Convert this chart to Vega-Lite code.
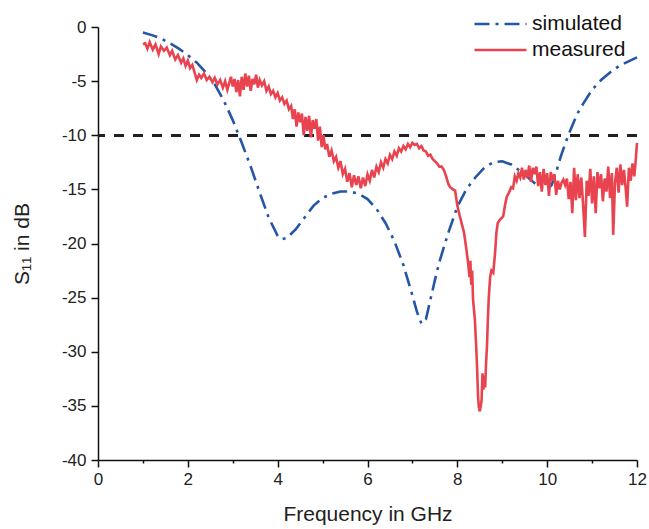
{
  "$schema": "https://vega.github.io/schema/vega-lite/v6.json",
  "width": 539,
  "height": 433,
  "autosize": {"type": "none"},
  "padding": {"left": 98, "top": 27, "right": 12, "bottom": 69},
  "background": "white",
  "config": {
    "view": {"stroke": null},
    "font": "Liberation Sans",
    "axis": {
      "grid": false,
      "domainColor": "#111",
      "domainWidth": 1.5,
      "tickColor": "#111",
      "tickWidth": 1.5,
      "labelFont": "Liberation Sans",
      "labelFontSize": 17,
      "labelColor": "#222",
      "titleFont": "Liberation Sans",
      "titleFontSize": 21,
      "titleFontWeight": "normal",
      "titleColor": "#222"
    }
  },
  "data": {
    "values": [
      {"f": 1.0, "s11": -0.5, "series": "simulated"},
      {"f": 1.2, "s11": -0.75, "series": "simulated"},
      {"f": 1.4, "s11": -1.05, "series": "simulated"},
      {"f": 1.6, "s11": -1.5, "series": "simulated"},
      {"f": 1.8, "s11": -2.0, "series": "simulated"},
      {"f": 2.0, "s11": -2.6, "series": "simulated"},
      {"f": 2.2, "s11": -3.3, "series": "simulated"},
      {"f": 2.4, "s11": -4.2, "series": "simulated"},
      {"f": 2.6, "s11": -5.3, "series": "simulated"},
      {"f": 2.8, "s11": -6.8, "series": "simulated"},
      {"f": 3.0, "s11": -8.6, "series": "simulated"},
      {"f": 3.2, "s11": -10.7, "series": "simulated"},
      {"f": 3.4, "s11": -12.9, "series": "simulated"},
      {"f": 3.6, "s11": -15.3, "series": "simulated"},
      {"f": 3.8, "s11": -17.6, "series": "simulated"},
      {"f": 4.0, "s11": -19.3, "series": "simulated"},
      {"f": 4.1, "s11": -19.6, "series": "simulated"},
      {"f": 4.2, "s11": -19.5, "series": "simulated"},
      {"f": 4.4, "s11": -18.7, "series": "simulated"},
      {"f": 4.6, "s11": -17.6, "series": "simulated"},
      {"f": 4.8, "s11": -16.5, "series": "simulated"},
      {"f": 5.0, "s11": -15.8, "series": "simulated"},
      {"f": 5.2, "s11": -15.4, "series": "simulated"},
      {"f": 5.4, "s11": -15.2, "series": "simulated"},
      {"f": 5.6, "s11": -15.2, "series": "simulated"},
      {"f": 5.8, "s11": -15.4, "series": "simulated"},
      {"f": 6.0, "s11": -15.9, "series": "simulated"},
      {"f": 6.2, "s11": -16.8, "series": "simulated"},
      {"f": 6.4, "s11": -18.1, "series": "simulated"},
      {"f": 6.6, "s11": -19.8, "series": "simulated"},
      {"f": 6.8, "s11": -22.0, "series": "simulated"},
      {"f": 7.0, "s11": -24.8, "series": "simulated"},
      {"f": 7.1, "s11": -26.3, "series": "simulated"},
      {"f": 7.2, "s11": -27.4, "series": "simulated"},
      {"f": 7.3, "s11": -27.0, "series": "simulated"},
      {"f": 7.4, "s11": -25.2, "series": "simulated"},
      {"f": 7.5, "s11": -23.4, "series": "simulated"},
      {"f": 7.6, "s11": -21.7, "series": "simulated"},
      {"f": 7.8, "s11": -19.0, "series": "simulated"},
      {"f": 8.0, "s11": -16.6, "series": "simulated"},
      {"f": 8.2, "s11": -15.0, "series": "simulated"},
      {"f": 8.4, "s11": -13.9, "series": "simulated"},
      {"f": 8.6, "s11": -13.0, "series": "simulated"},
      {"f": 8.8, "s11": -12.5, "series": "simulated"},
      {"f": 9.0, "s11": -12.4, "series": "simulated"},
      {"f": 9.2, "s11": -12.7, "series": "simulated"},
      {"f": 9.4, "s11": -13.3, "series": "simulated"},
      {"f": 9.6, "s11": -14.0, "series": "simulated"},
      {"f": 9.8, "s11": -14.7, "series": "simulated"},
      {"f": 10.0, "s11": -15.0, "series": "simulated"},
      {"f": 10.1, "s11": -14.6, "series": "simulated"},
      {"f": 10.2, "s11": -13.4, "series": "simulated"},
      {"f": 10.3, "s11": -12.0, "series": "simulated"},
      {"f": 10.4, "s11": -10.8, "series": "simulated"},
      {"f": 10.5, "s11": -9.7, "series": "simulated"},
      {"f": 10.6, "s11": -8.7, "series": "simulated"},
      {"f": 10.7, "s11": -7.8, "series": "simulated"},
      {"f": 10.8, "s11": -7.1, "series": "simulated"},
      {"f": 11.0, "s11": -5.8, "series": "simulated"},
      {"f": 11.2, "s11": -4.9, "series": "simulated"},
      {"f": 11.4, "s11": -4.2, "series": "simulated"},
      {"f": 11.6, "s11": -3.6, "series": "simulated"},
      {"f": 11.8, "s11": -3.2, "series": "simulated"},
      {"f": 12.0, "s11": -2.8, "series": "simulated"},

      {"f": 1.00, "s11": -1.6, "series": "measured"},
      {"f": 1.05, "s11": -1.5, "series": "measured"},
      {"f": 1.10, "s11": -2.0, "series": "measured"},
      {"f": 1.15, "s11": -1.4, "series": "measured"},
      {"f": 1.22, "s11": -2.1, "series": "measured"},
      {"f": 1.28, "s11": -1.6, "series": "measured"},
      {"f": 1.35, "s11": -2.5, "series": "measured"},
      {"f": 1.40, "s11": -1.8, "series": "measured"},
      {"f": 1.47, "s11": -2.2, "series": "measured"},
      {"f": 1.53, "s11": -1.9, "series": "measured"},
      {"f": 1.60, "s11": -2.6, "series": "measured"},
      {"f": 1.65, "s11": -2.2, "series": "measured"},
      {"f": 1.72, "s11": -3.0, "series": "measured"},
      {"f": 1.78, "s11": -2.6, "series": "measured"},
      {"f": 1.85, "s11": -3.3, "series": "measured"},
      {"f": 1.90, "s11": -2.9, "series": "measured"},
      {"f": 1.95, "s11": -3.6, "series": "measured"},
      {"f": 2.00, "s11": -3.1, "series": "measured"},
      {"f": 2.05, "s11": -3.8, "series": "measured"},
      {"f": 2.10, "s11": -3.5, "series": "measured"},
      {"f": 2.15, "s11": -4.2, "series": "measured"},
      {"f": 2.20, "s11": -4.9, "series": "measured"},
      {"f": 2.25, "s11": -4.4, "series": "measured"},
      {"f": 2.30, "s11": -4.7, "series": "measured"},
      {"f": 2.36, "s11": -4.3, "series": "measured"},
      {"f": 2.42, "s11": -4.9, "series": "measured"},
      {"f": 2.48, "s11": -4.6, "series": "measured"},
      {"f": 2.55, "s11": -5.1, "series": "measured"},
      {"f": 2.60, "s11": -4.7, "series": "measured"},
      {"f": 2.66, "s11": -5.3, "series": "measured"},
      {"f": 2.72, "s11": -4.9, "series": "measured"},
      {"f": 2.78, "s11": -5.6, "series": "measured"},
      {"f": 2.83, "s11": -5.0, "series": "measured"},
      {"f": 2.88, "s11": -5.8, "series": "measured"},
      {"f": 2.92, "s11": -5.2, "series": "measured"},
      {"f": 2.96, "s11": -4.6, "series": "measured"},
      {"f": 3.00, "s11": -5.5, "series": "measured"},
      {"f": 3.04, "s11": -4.8, "series": "measured"},
      {"f": 3.08, "s11": -6.0, "series": "measured"},
      {"f": 3.12, "s11": -4.9, "series": "measured"},
      {"f": 3.16, "s11": -6.4, "series": "measured"},
      {"f": 3.20, "s11": -4.6, "series": "measured"},
      {"f": 3.24, "s11": -5.8, "series": "measured"},
      {"f": 3.28, "s11": -4.3, "series": "measured"},
      {"f": 3.32, "s11": -5.5, "series": "measured"},
      {"f": 3.36, "s11": -4.5, "series": "measured"},
      {"f": 3.40, "s11": -5.9, "series": "measured"},
      {"f": 3.44, "s11": -4.8, "series": "measured"},
      {"f": 3.48, "s11": -5.3, "series": "measured"},
      {"f": 3.52, "s11": -4.4, "series": "measured"},
      {"f": 3.56, "s11": -5.6, "series": "measured"},
      {"f": 3.60, "s11": -4.9, "series": "measured"},
      {"f": 3.65, "s11": -5.4, "series": "measured"},
      {"f": 3.70, "s11": -5.0, "series": "measured"},
      {"f": 3.75, "s11": -5.9, "series": "measured"},
      {"f": 3.80, "s11": -5.5, "series": "measured"},
      {"f": 3.85, "s11": -6.2, "series": "measured"},
      {"f": 3.90, "s11": -5.9, "series": "measured"},
      {"f": 3.95, "s11": -6.5, "series": "measured"},
      {"f": 4.00, "s11": -6.1, "series": "measured"},
      {"f": 4.05, "s11": -6.8, "series": "measured"},
      {"f": 4.10, "s11": -6.5, "series": "measured"},
      {"f": 4.15, "s11": -7.1, "series": "measured"},
      {"f": 4.20, "s11": -6.8, "series": "measured"},
      {"f": 4.25, "s11": -7.6, "series": "measured"},
      {"f": 4.30, "s11": -7.3, "series": "measured"},
      {"f": 4.34, "s11": -8.5, "series": "measured"},
      {"f": 4.38, "s11": -7.6, "series": "measured"},
      {"f": 4.42, "s11": -9.2, "series": "measured"},
      {"f": 4.46, "s11": -7.9, "series": "measured"},
      {"f": 4.50, "s11": -8.8, "series": "measured"},
      {"f": 4.54, "s11": -8.0, "series": "measured"},
      {"f": 4.58, "s11": -10.0, "series": "measured"},
      {"f": 4.62, "s11": -8.3, "series": "measured"},
      {"f": 4.66, "s11": -9.6, "series": "measured"},
      {"f": 4.70, "s11": -8.2, "series": "measured"},
      {"f": 4.74, "s11": -10.2, "series": "measured"},
      {"f": 4.78, "s11": -8.6, "series": "measured"},
      {"f": 4.82, "s11": -9.4, "series": "measured"},
      {"f": 4.86, "s11": -8.5, "series": "measured"},
      {"f": 4.90, "s11": -10.5, "series": "measured"},
      {"f": 4.94, "s11": -9.2, "series": "measured"},
      {"f": 4.98, "s11": -11.1, "series": "measured"},
      {"f": 5.02, "s11": -10.0, "series": "measured"},
      {"f": 5.06, "s11": -11.3, "series": "measured"},
      {"f": 5.10, "s11": -10.8, "series": "measured"},
      {"f": 5.15, "s11": -12.0, "series": "measured"},
      {"f": 5.20, "s11": -11.4, "series": "measured"},
      {"f": 5.25, "s11": -12.4, "series": "measured"},
      {"f": 5.30, "s11": -12.0, "series": "measured"},
      {"f": 5.35, "s11": -13.0, "series": "measured"},
      {"f": 5.40, "s11": -12.4, "series": "measured"},
      {"f": 5.45, "s11": -13.6, "series": "measured"},
      {"f": 5.50, "s11": -13.1, "series": "measured"},
      {"f": 5.55, "s11": -14.3, "series": "measured"},
      {"f": 5.60, "s11": -13.5, "series": "measured"},
      {"f": 5.65, "s11": -14.8, "series": "measured"},
      {"f": 5.70, "s11": -13.7, "series": "measured"},
      {"f": 5.75, "s11": -14.6, "series": "measured"},
      {"f": 5.80, "s11": -13.8, "series": "measured"},
      {"f": 5.85, "s11": -14.9, "series": "measured"},
      {"f": 5.90, "s11": -13.9, "series": "measured"},
      {"f": 5.95, "s11": -14.7, "series": "measured"},
      {"f": 6.00, "s11": -13.6, "series": "measured"},
      {"f": 6.05, "s11": -14.2, "series": "measured"},
      {"f": 6.10, "s11": -13.2, "series": "measured"},
      {"f": 6.15, "s11": -13.9, "series": "measured"},
      {"f": 6.20, "s11": -12.9, "series": "measured"},
      {"f": 6.25, "s11": -13.4, "series": "measured"},
      {"f": 6.30, "s11": -12.5, "series": "measured"},
      {"f": 6.35, "s11": -13.0, "series": "measured"},
      {"f": 6.40, "s11": -12.2, "series": "measured"},
      {"f": 6.45, "s11": -12.6, "series": "measured"},
      {"f": 6.50, "s11": -11.8, "series": "measured"},
      {"f": 6.55, "s11": -12.2, "series": "measured"},
      {"f": 6.60, "s11": -11.5, "series": "measured"},
      {"f": 6.65, "s11": -11.9, "series": "measured"},
      {"f": 6.70, "s11": -11.2, "series": "measured"},
      {"f": 6.75, "s11": -11.5, "series": "measured"},
      {"f": 6.80, "s11": -11.0, "series": "measured"},
      {"f": 6.85, "s11": -11.3, "series": "measured"},
      {"f": 6.90, "s11": -10.8, "series": "measured"},
      {"f": 6.95, "s11": -11.1, "series": "measured"},
      {"f": 7.00, "s11": -10.7, "series": "measured"},
      {"f": 7.05, "s11": -10.9, "series": "measured"},
      {"f": 7.10, "s11": -10.8, "series": "measured"},
      {"f": 7.15, "s11": -11.2, "series": "measured"},
      {"f": 7.20, "s11": -11.0, "series": "measured"},
      {"f": 7.25, "s11": -11.4, "series": "measured"},
      {"f": 7.30, "s11": -11.5, "series": "measured"},
      {"f": 7.35, "s11": -11.9, "series": "measured"},
      {"f": 7.40, "s11": -11.8, "series": "measured"},
      {"f": 7.45, "s11": -12.2, "series": "measured"},
      {"f": 7.50, "s11": -12.4, "series": "measured"},
      {"f": 7.55, "s11": -12.6, "series": "measured"},
      {"f": 7.60, "s11": -12.9, "series": "measured"},
      {"f": 7.65, "s11": -12.9, "series": "measured"},
      {"f": 7.70, "s11": -13.2, "series": "measured"},
      {"f": 7.75, "s11": -13.8, "series": "measured"},
      {"f": 7.80, "s11": -14.5, "series": "measured"},
      {"f": 7.84, "s11": -14.8, "series": "measured"},
      {"f": 7.90, "s11": -15.0, "series": "measured"},
      {"f": 7.95, "s11": -15.1, "series": "measured"},
      {"f": 8.00, "s11": -16.5, "series": "measured"},
      {"f": 8.05, "s11": -17.4, "series": "measured"},
      {"f": 8.10, "s11": -18.2, "series": "measured"},
      {"f": 8.15, "s11": -19.0, "series": "measured"},
      {"f": 8.20, "s11": -20.5, "series": "measured"},
      {"f": 8.24, "s11": -21.8, "series": "measured"},
      {"f": 8.27, "s11": -23.1, "series": "measured"},
      {"f": 8.29, "s11": -21.6, "series": "measured"},
      {"f": 8.31, "s11": -23.8, "series": "measured"},
      {"f": 8.33, "s11": -22.5, "series": "measured"},
      {"f": 8.35, "s11": -25.2, "series": "measured"},
      {"f": 8.39, "s11": -27.0, "series": "measured"},
      {"f": 8.42, "s11": -29.5, "series": "measured"},
      {"f": 8.44, "s11": -31.5, "series": "measured"},
      {"f": 8.46, "s11": -34.0, "series": "measured"},
      {"f": 8.48, "s11": -35.2, "series": "measured"},
      {"f": 8.50, "s11": -35.5, "series": "measured"},
      {"f": 8.52, "s11": -35.0, "series": "measured"},
      {"f": 8.54, "s11": -34.5, "series": "measured"},
      {"f": 8.56, "s11": -32.0, "series": "measured"},
      {"f": 8.58, "s11": -33.5, "series": "measured"},
      {"f": 8.60, "s11": -32.2, "series": "measured"},
      {"f": 8.62, "s11": -33.3, "series": "measured"},
      {"f": 8.64, "s11": -31.0, "series": "measured"},
      {"f": 8.66, "s11": -29.5, "series": "measured"},
      {"f": 8.68, "s11": -27.0, "series": "measured"},
      {"f": 8.70, "s11": -25.0, "series": "measured"},
      {"f": 8.73, "s11": -23.1, "series": "measured"},
      {"f": 8.76, "s11": -22.5, "series": "measured"},
      {"f": 8.80, "s11": -22.7, "series": "measured"},
      {"f": 8.84, "s11": -20.9, "series": "measured"},
      {"f": 8.87, "s11": -19.0, "series": "measured"},
      {"f": 8.90, "s11": -18.1, "series": "measured"},
      {"f": 8.95, "s11": -17.8, "series": "measured"},
      {"f": 9.02, "s11": -17.5, "series": "measured"},
      {"f": 9.06, "s11": -16.5, "series": "measured"},
      {"f": 9.10, "s11": -15.7, "series": "measured"},
      {"f": 9.15, "s11": -15.3, "series": "measured"},
      {"f": 9.20, "s11": -14.8, "series": "measured"},
      {"f": 9.24, "s11": -14.9, "series": "measured"},
      {"f": 9.28, "s11": -13.8, "series": "measured"},
      {"f": 9.32, "s11": -14.2, "series": "measured"},
      {"f": 9.36, "s11": -13.5, "series": "measured"},
      {"f": 9.40, "s11": -13.9, "series": "measured"},
      {"f": 9.44, "s11": -13.0, "series": "measured"},
      {"f": 9.48, "s11": -14.1, "series": "measured"},
      {"f": 9.52, "s11": -13.2, "series": "measured"},
      {"f": 9.56, "s11": -13.9, "series": "measured"},
      {"f": 9.60, "s11": -12.8, "series": "measured"},
      {"f": 9.64, "s11": -14.3, "series": "measured"},
      {"f": 9.68, "s11": -13.0, "series": "measured"},
      {"f": 9.72, "s11": -13.6, "series": "measured"},
      {"f": 9.76, "s11": -12.9, "series": "measured"},
      {"f": 9.80, "s11": -14.7, "series": "measured"},
      {"f": 9.84, "s11": -13.4, "series": "measured"},
      {"f": 9.88, "s11": -15.2, "series": "measured"},
      {"f": 9.92, "s11": -13.1, "series": "measured"},
      {"f": 9.96, "s11": -14.6, "series": "measured"},
      {"f": 10.00, "s11": -13.5, "series": "measured"},
      {"f": 10.04, "s11": -15.6, "series": "measured"},
      {"f": 10.08, "s11": -13.4, "series": "measured"},
      {"f": 10.12, "s11": -14.2, "series": "measured"},
      {"f": 10.16, "s11": -13.6, "series": "measured"},
      {"f": 10.20, "s11": -15.5, "series": "measured"},
      {"f": 10.24, "s11": -14.2, "series": "measured"},
      {"f": 10.28, "s11": -15.0, "series": "measured"},
      {"f": 10.32, "s11": -14.4, "series": "measured"},
      {"f": 10.36, "s11": -14.1, "series": "measured"},
      {"f": 10.40, "s11": -14.6, "series": "measured"},
      {"f": 10.44, "s11": -14.0, "series": "measured"},
      {"f": 10.48, "s11": -15.9, "series": "measured"},
      {"f": 10.52, "s11": -14.3, "series": "measured"},
      {"f": 10.56, "s11": -17.2, "series": "measured"},
      {"f": 10.60, "s11": -13.0, "series": "measured"},
      {"f": 10.64, "s11": -16.0, "series": "measured"},
      {"f": 10.68, "s11": -13.6, "series": "measured"},
      {"f": 10.72, "s11": -15.8, "series": "measured"},
      {"f": 10.76, "s11": -13.9, "series": "measured"},
      {"f": 10.80, "s11": -16.4, "series": "measured"},
      {"f": 10.84, "s11": -19.4, "series": "measured"},
      {"f": 10.88, "s11": -14.2, "series": "measured"},
      {"f": 10.92, "s11": -15.6, "series": "measured"},
      {"f": 10.96, "s11": -13.1, "series": "measured"},
      {"f": 11.00, "s11": -16.3, "series": "measured"},
      {"f": 11.04, "s11": -13.8, "series": "measured"},
      {"f": 11.08, "s11": -17.2, "series": "measured"},
      {"f": 11.12, "s11": -13.4, "series": "measured"},
      {"f": 11.16, "s11": -14.9, "series": "measured"},
      {"f": 11.20, "s11": -13.6, "series": "measured"},
      {"f": 11.24, "s11": -16.1, "series": "measured"},
      {"f": 11.28, "s11": -14.0, "series": "measured"},
      {"f": 11.32, "s11": -15.2, "series": "measured"},
      {"f": 11.36, "s11": -12.9, "series": "measured"},
      {"f": 11.40, "s11": -15.8, "series": "measured"},
      {"f": 11.44, "s11": -13.5, "series": "measured"},
      {"f": 11.47, "s11": -19.2, "series": "measured"},
      {"f": 11.51, "s11": -14.4, "series": "measured"},
      {"f": 11.55, "s11": -13.0, "series": "measured"},
      {"f": 11.59, "s11": -15.3, "series": "measured"},
      {"f": 11.63, "s11": -12.7, "series": "measured"},
      {"f": 11.67, "s11": -14.6, "series": "measured"},
      {"f": 11.71, "s11": -13.2, "series": "measured"},
      {"f": 11.75, "s11": -15.0, "series": "measured"},
      {"f": 11.78, "s11": -16.6, "series": "measured"},
      {"f": 11.82, "s11": -13.0, "series": "measured"},
      {"f": 11.86, "s11": -14.2, "series": "measured"},
      {"f": 11.90, "s11": -12.6, "series": "measured"},
      {"f": 11.94, "s11": -13.8, "series": "measured"},
      {"f": 11.97, "s11": -12.4, "series": "measured"},
      {"f": 12.00, "s11": -10.7, "series": "measured"}
    ]
  },
  "layer": [
    {
      "mark": {"type": "rule", "color": "#222", "strokeWidth": 1.8, "strokeDash": [10, 9]},
      "encoding": {"y": {"datum": -10}}
    },
    {
      "mark": {"type": "line", "strokeWidth": 2.6, "clip": false},
      "encoding": {
        "x": {
          "field": "f", "type": "quantitative",
          "scale": {"domain": [0, 12], "nice": false, "zero": false},
          "axis": {
            "title": "Frequency in GHz",
            "values": [0, 1, 2, 3, 4, 5, 6, 7, 8, 9, 10, 11, 12],
            "labelExpr": "datum.value % 2 === 0 ? '' + datum.value : ''",
            "tickSize": {"condition": {"test": "datum.value % 2 === 0", "value": 7}, "value": 3},
            "labelPadding": 4,
            "titlePadding": 16,
            "labelFlush": false
          }
        },
        "y": {
          "field": "s11", "type": "quantitative",
          "scale": {"domain": [-40, 0], "nice": false},
          "axis": {
            "title": "S₁₁ in dB",
            "values": [-40, -37.5, -35, -32.5, -30, -27.5, -25, -22.5, -20, -17.5, -15, -12.5, -10, -7.5, -5, -2.5, 0],
            "labelExpr": "datum.value % 5 === 0 ? '' + datum.value : ''",
            "tickSize": {"condition": {"test": "datum.value % 5 === 0", "value": 7}, "value": 3},
            "labelPadding": 5,
            "titlePadding": 29,
            "labelFlush": false
          }
        },
        "color": {
          "field": "series", "type": "nominal",
          "scale": {"domain": ["simulated", "measured"], "range": ["#2456a5", "#e8434e"]},
          "legend": {
            "title": null,
            "orient": "none",
            "legendX": 375,
            "legendY": -15,
            "padding": 0,
            "symbolType": "stroke",
            "symbolSize": 2704,
            "symbolStrokeWidth": 2.6,
            "clipHeight": 24,
            "rowPadding": 2,
            "labelOffset": 4,
            "labelFontSize": 21,
            "labelFont": "Liberation Sans",
            "labelColor": "#111"
          }
        },
        "strokeDash": {
          "field": "series", "type": "nominal",
          "scale": {"domain": ["simulated", "measured"], "range": [[15, 6, 3, 6], [1, 0]]},
          "legend": {
            "title": null,
            "orient": "none",
            "legendX": 375,
            "legendY": -15,
            "padding": 0,
            "symbolType": "stroke",
            "symbolSize": 2704,
            "symbolStrokeWidth": 2.6,
            "clipHeight": 24,
            "rowPadding": 2,
            "labelOffset": 4,
            "labelFontSize": 21,
            "labelFont": "Liberation Sans",
            "labelColor": "#111"
          }
        }
      }
    }
  ]
}
